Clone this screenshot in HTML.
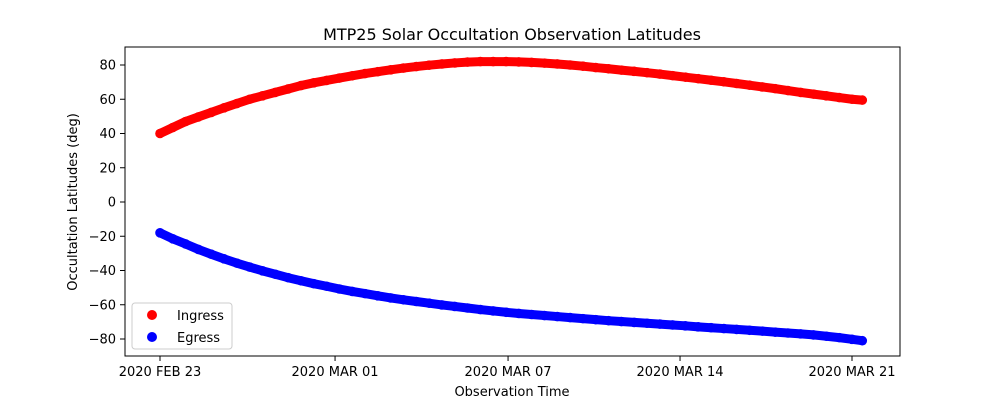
<!DOCTYPE html>
<html><head><meta charset="utf-8"><style>
body{margin:0;background:#fff;font-family:"Liberation Sans","DejaVu Sans",sans-serif;}
svg text{font-family:"DejaVu Sans","Liberation Sans",sans-serif;fill:#000;}
</style></head><body>
<svg id="chart" width="1000" height="400" viewBox="0 0 1000 400" xmlns="http://www.w3.org/2000/svg">
<rect width="1000" height="400" fill="#fff"/>
<text x="512" y="40" font-size="16" text-anchor="middle">MTP25 Solar Occultation Observation Latitudes</text>
<g id="marks"></g>
<g id="axes"></g>
<rect x="125" y="47" width="775" height="309" fill="none" stroke="#000" stroke-width="1"/>
<text x="512" y="396" font-size="13" text-anchor="middle">Observation Time</text>
<text transform="translate(77,202) rotate(-90)" font-size="13" text-anchor="middle">Occultation Latitudes (deg)</text>
<g>
<rect x="132" y="303" width="100" height="46" rx="3" fill="#fff" stroke="#ccc"/>
<circle cx="152" cy="315" r="5" fill="#ff0000"/>
<text x="177" y="320" font-size="13">Ingress</text>
<circle cx="152" cy="337" r="5" fill="#0000ff"/>
<text x="177" y="342" font-size="13">Egress</text>
</g>
</svg>
<script>
const days=[0,0.5,1,1.5,2,2.5,3,3.5,4,4.5,5,5.5,6,6.5,7,7.5,8,8.5,9,9.5,10,10.5,11,11.5,12,12.5,13,13.5,14,14.5,15,15.5,16,16.5,17,17.5,18,18.5,19,19.5,20,20.5,21,21.5,22,22.5,23,23.5,24,24.5,25,25.5,26,26.5,27,27.4];
const ingress=[40,43.5,47,49.7,52.3,55,57.5,60,62,64,66,68,69.6,71,72.4,73.7,75,76.1,77.2,78.2,79.1,79.9,80.6,81.2,81.7,82,82,82,81.8,81.5,81.1,80.6,80,79.3,78.5,77.8,77,76.3,75.5,74.7,73.8,72.9,72,71.1,70.2,69.2,68.2,67.2,66.2,65.1,64,63,62,61,60,59.5];
const egress=[-18,-21.5,-24.5,-27.7,-30.5,-33.2,-35.7,-38,-40.2,-42.2,-44.2,-46,-47.7,-49.2,-50.8,-52.2,-53.5,-54.8,-56,-57.1,-58.1,-59.1,-60.1,-61,-61.9,-62.8,-63.6,-64.4,-65.1,-65.7,-66.3,-66.9,-67.5,-68.1,-68.7,-69.3,-69.8,-70.3,-70.8,-71.3,-71.8,-72.3,-72.9,-73.4,-73.9,-74.4,-74.9,-75.4,-76,-76.5,-77,-77.6,-78.4,-79.2,-80.2,-81];
const xTickDays=[0,6.83,13.58,20.29,27];
const xTickLabels=["2020 FEB 23","2020 MAR 01","2020 MAR 07","2020 MAR 14","2020 MAR 21"];
const yTicks=[80,60,40,20,0,-20,-40,-60,-80];

const NS="http://www.w3.org/2000/svg";
function xs(d){return 160+d*25.63;}
function ys(v){return 202-v*1.7125;}
function mk(tag,attrs,parent){const e=document.createElementNS(NS,tag);for(const k in attrs)e.setAttribute(k,attrs[k]);parent.appendChild(e);return e;}
const marks=document.getElementById('marks'), axes=document.getElementById('axes');
function series(vals,color,name){
  const g=mk('g',{},marks);
  
  
  const p=mk('path',{d:days.map((d,i)=>(i?'L':'M')+xs(d)+' '+ys(vals[i])).join(''),fill:'none',stroke:color,'stroke-width':9,'stroke-linecap':'round','stroke-linejoin':'round'},g);
  
  
  days.forEach((d,i)=>{
    const c=mk('circle',{cx:xs(d),cy:ys(vals[i]),r:4.8,fill:color},g);
    
    
  });
}
series(ingress,'#ff0000','ingress');
series(egress,'#0000ff','egress');
yTicks.forEach(v=>{
  const y=ys(v);
  const l=mk('line',{x1:120,x2:125,y1:y,y2:y,stroke:'#000'},axes);
  
  
  const t=mk('text',{x:116,y:y+4.5,'font-size':13,'text-anchor':'end'},axes);
  t.textContent=v<0?'\u2212'+Math.abs(v):String(v);
  
  
});
xTickDays.forEach((d,i)=>{
  const x=xs(d);
  const l=mk('line',{x1:x,x2:x,y1:356,y2:361,stroke:'#000'},axes);
  
  
  const t=mk('text',{x:x,y:376,'font-size':13,'text-anchor':'middle'},axes);
  t.textContent=xTickLabels[i];
  
  
});
</script>
</body></html>
